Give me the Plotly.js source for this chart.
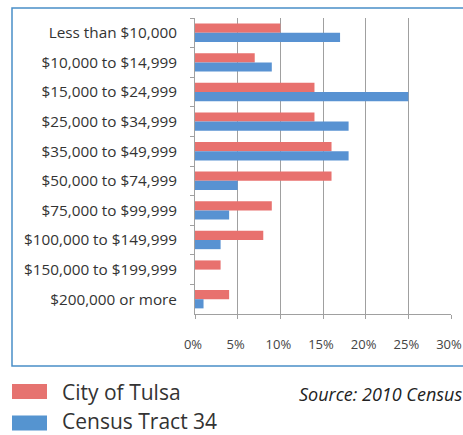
<!DOCTYPE html>
<html>
<head>
<meta charset="utf-8">
<script src="https://cdn.plot.ly/plotly-3.0.1.min.js"></script>
<style>
html,body{margin:0;padding:0;background:#fff;}
#chart{width:463px;height:435px;}
</style>
</head>
<body>
<div id="chart"></div>
<script>
var categories = ["Less than $10,000","$10,000 to $14,999","$15,000 to $24,999","$25,000 to $34,999","$35,000 to $49,999","$50,000 to $74,999","$75,000 to $99,999","$100,000 to $149,999","$150,000 to $199,999","$200,000 or more"];
var tulsaValues = [10, 7, 14, 14, 16, 16, 9, 8, 3, 4];
var tractValues = [17, 9, 25, 18, 18, 5, 4, 3, 0, 1];
var seriesNames = ["City of Tulsa", "Census Tract 34"];
var xTickValues = [0, 5, 10, 15, 20, 25, 30];
var xTickLabels = ["0%", "5%", "10%", "15%", "20%", "25%", "30%"];
var sourceText = "Source: 2010 Census";

var redColor = "#E8716E", blueColor = "#5892D2";

// layout geometry (pixels)
var W = 463, H = 435, L = 195, R = 451, T = 18, B = 314;
function px(x){ return (x - L) / (R - L); }
function py(y){ return (B - y) / (B - T); }

var traces = [
  {type:"bar", orientation:"h", y:categories, x:tulsaValues, name:seriesNames[0],
   marker:{color:redColor}, showlegend:false},
  {type:"bar", orientation:"h", y:categories, x:tractValues, name:seriesNames[1],
   marker:{color:blueColor}, showlegend:false}
];

var layout = {
  width:W, height:H,
  margin:{l:L, r:W-R, t:T, b:H-B, pad:0},
  paper_bgcolor:"#fff", plot_bgcolor:"#fff",
  barmode:"group", bargap:0.38, bargroupgap:0,
  font:{family:"Open Sans, sans-serif", color:"#333"},
  xaxis:{range:[0,30], tickvals:xTickValues, ticktext:xTickLabels,
    showgrid:true, gridcolor:"#a0a0a0", gridwidth:1,
    showline:true, linecolor:"#a0a0a0", linewidth:1,
    ticks:"outside", ticklen:4, tickcolor:"#a0a0a0",
    ticklabelstandoff:14, ticklabelshift:-2, ticklabeloverflow:"allow", zeroline:false,
    tickfont:{size:13, color:"#444", family:"Open Sans, sans-serif"}, fixedrange:true},
  yaxis:{type:"category", autorange:"reversed", tickson:"boundaries",
    showline:true, linecolor:"#a0a0a0", linewidth:1,
    ticks:"outside", ticklen:4, tickcolor:"#a0a0a0",
    ticklabelstandoff:14, showgrid:false, zeroline:false,
    tickfont:{size:15.3, color:"#333", family:"Open Sans, sans-serif"}, fixedrange:true},
  shapes:[
    {type:"rect", xref:"paper", yref:"paper", x0:px(12), x1:px(480), y0:py(366), y1:py(8),
     line:{color:"#4A8FC8", width:1.5}, fillcolor:"rgba(0,0,0,0)", layer:"below"},
    {type:"rect", xref:"paper", yref:"paper", x0:px(12), x1:px(47), y0:py(399), y1:py(384),
     line:{width:0}, fillcolor:"#E67370"},
    {type:"rect", xref:"paper", yref:"paper", x0:px(12), x1:px(47), y0:py(430.5), y1:py(415.5),
     line:{width:0}, fillcolor:"#5594D0"}
  ],
  annotations:[
    {xref:"paper", yref:"paper", x:px(60), y:py(392), xanchor:"left", yanchor:"middle",
     text:seriesNames[0], showarrow:false, font:{size:21, color:"#333", family:"Open Sans, sans-serif"}},
    {xref:"paper", yref:"paper", x:px(60), y:py(421), xanchor:"left", yanchor:"middle",
     text:seriesNames[1], showarrow:false, font:{size:21, color:"#333", family:"Open Sans, sans-serif"}},
    {xref:"paper", yref:"paper", x:px(297), y:py(394), xanchor:"left", yanchor:"middle",
     text:"<i>"+sourceText+"</i>", showarrow:false, font:{size:18, color:"#222", family:"Open Sans, sans-serif"}}
  ]
};

Plotly.newPlot("chart", traces, layout, {displayModeBar:false, staticPlot:true});
</script>
</body>
</html>
